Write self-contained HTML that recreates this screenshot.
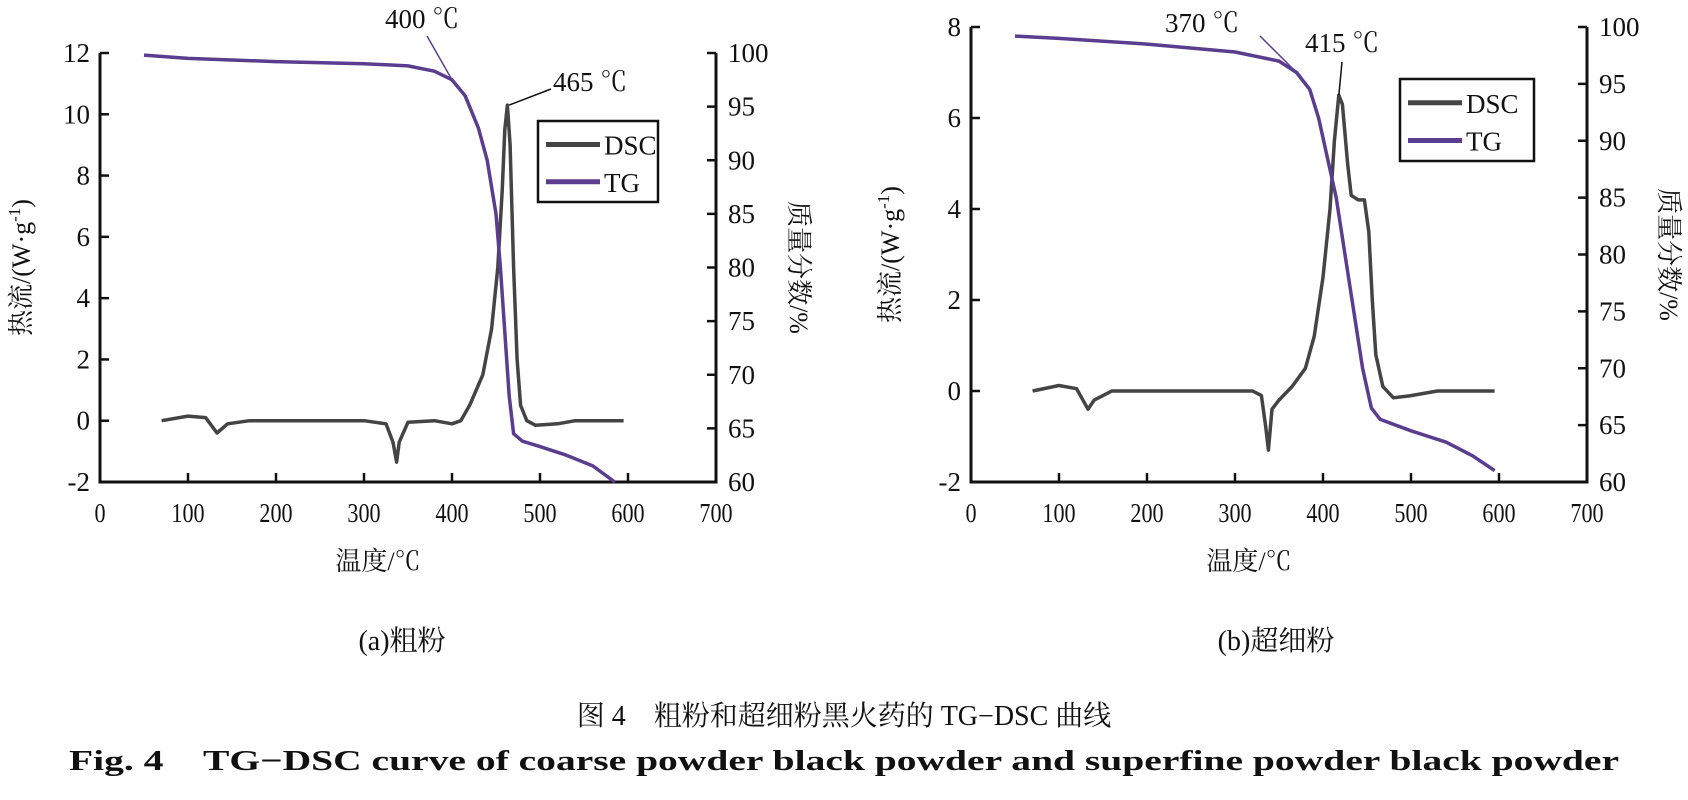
<!DOCTYPE html>
<html><head><meta charset="utf-8"><style>
html,body{margin:0;padding:0;background:#fff;}
svg{display:block;}
text{font-family:"Liberation Serif","Noto Serif CJK SC",serif;fill:#111;}
</style></head><body>
<svg id="fig" width="1688" height="800" viewBox="0 0 1688 800"></svg>
<script>
// ---- data (temperature °C, value) ----
const dscA_T=[70,100,120,133,145,170,300,325,333,337,340,350,380,400,410,420,435,445,452,457,460,463,466,470,474,478,485,495,520,540,595];
const dscA_V=[0,0.15,0.1,-0.4,-0.1,0,0,-0.1,-0.7,-1.35,-0.7,-0.05,0,-0.1,0,0.5,1.5,3,5,7.5,9.5,10.3,9,5,2,0.5,0,-0.15,-0.1,0,0];
const tgA_T=[50,100,200,300,350,380,400,415,430,440,450,455,460,465,470,480,500,530,560,585];
const tgA_V=[99.8,99.5,99.2,99.0,98.8,98.3,97.5,96,93,90,85,80,74,68,64.5,63.8,63.3,62.5,61.5,60];
const dscB_T=[70,100,120,133,140,160,320,330,335,338,342,350,365,380,390,400,408,413,418,422,428,432,440,447,452,456,460,468,480,500,530,595];
const dscB_V=[0,0.12,0.05,-0.4,-0.2,0,0,-0.1,-0.8,-1.3,-0.4,-0.2,0.1,0.5,1.2,2.5,4,5.5,6.5,6.3,5.0,4.3,4.2,4.2,3.5,2,0.8,0.1,-0.15,-0.1,0,0];
const tgB_T=[50,100,200,300,350,370,385,395,405,415,425,435,445,455,465,500,540,570,595];
const tgB_V=[99.2,99,98.5,97.8,97,96,94.5,92,88.5,85,80,75,70,66.5,65.5,64.5,63.5,62.3,61];
const xTicks=[0,100,200,300,400,500,600,700];
const yA_ticks=[-2,0,2,4,6,8,10,12];
const yB_ticks=[-2,0,2,4,6,8];
const y2_ticks=[60,65,70,75,80,85,90,95,100];

const NS="http://www.w3.org/2000/svg";
const svg=document.getElementById('fig');
function mk(tag,attrs,parent){const e=document.createElementNS(NS,tag);for(const k in attrs)e.setAttribute(k,attrs[k]);(parent||svg).appendChild(e);return e;}
function txt(s,attrs,parent){const e=mk('text',attrs,parent);e.textContent=s;return e;}

function panel(id,cfg){
  const g=mk('g',{});
  
  
  const {x0,x1,yt,yb,ymin,ymax}=cfg;
  const X=t=>x0+(t-0)/700*(x1-x0);
  const Y=v=>yb-(v-ymin)/(ymax-ymin)*(yb-yt);
  const Y2=v=>yb-(v-60)/40*(yb-yt);
  const frame=mk('path',{d:`M${x0},${yt}V${yb}H${x1}V${yt}`,fill:'none',stroke:'#111','stroke-width':3},g);
  
  
  xTicks.forEach(t=>{
    mk('line',{x1:X(t),x2:X(t),y1:yb,y2:yb-9,stroke:'#111','stroke-width':2.5},g);
    const l=txt(t,{x:X(t),y:yb+40,'text-anchor':'middle','font-size':27,transform:`translate(${X(t)},0) scale(0.82,1) translate(${-X(t)},0)`},g);
    
    
  });
  cfg.yticks.forEach(t=>{
    mk('line',{x1:x0,x2:x0+9,y1:Y(t),y2:Y(t),stroke:'#111','stroke-width':2.5},g);
    const l=txt(t,{x:x0-10,y:Y(t)+9,'text-anchor':'end','font-size':27},g);
    
    
  });
  y2_ticks.forEach(t=>{
    mk('line',{x1:x1,x2:x1-9,y1:Y2(t),y2:Y2(t),stroke:'#111','stroke-width':2.5},g);
    const l=txt(t,{x:x1+12,y:Y2(t)+9,'font-size':27},g);
    
    
  });
  const xl=txt('温度/℃',{x:(x0+x1)/2-30,y:yb+88,'text-anchor':'middle','font-size':26},g);
  
  
  const ly=(yt+yb)/2;
  const yl=txt('',{x:0,y:0,'text-anchor':'middle','font-size':26,transform:`translate(${cfg.ylx},${ly}) rotate(-90)`},g);
  yl.innerHTML='热流/(W·g<tspan dy="-10" font-size="17">-1</tspan><tspan dy="10">)</tspan>';
  
  
  const yr=txt('质量分数/%',{x:0,y:0,'text-anchor':'middle','font-size':26,transform:`translate(${cfg.yrx},${ly}) rotate(90)`},g);
  
  
  const dp=cfg.dT.map((t,i)=>`${i?'L':'M'}${X(t).toFixed(1)},${Y(cfg.dV[i]).toFixed(1)}`).join('');
  const dsc=mk('path',{d:dp,fill:'none',stroke:'#444','stroke-width':3.5,'stroke-linejoin':'round'},g);
  
  
  const tp=cfg.tT.map((t,i)=>`${i?'L':'M'}${X(t).toFixed(1)},${Y2(cfg.tV[i]).toFixed(1)}`).join('');
  const tg=mk('path',{d:tp,fill:'none',stroke:'#5a3d8e','stroke-width':3.5,'stroke-linejoin':'round'},g);
  
  
  // legend
  const L=cfg.leg;
  const lg=mk('g',{},g);
  
  
  mk('rect',{x:L.x,y:L.y,width:L.w,height:L.h,fill:'#fff',stroke:'#111','stroke-width':2.5},lg);
  mk('line',{x1:L.x+8,x2:L.x+62,y1:L.y+L.h*0.29,y2:L.y+L.h*0.29,stroke:'#444','stroke-width':5},lg);
  mk('line',{x1:L.x+8,x2:L.x+62,y1:L.y+L.h*0.75,y2:L.y+L.h*0.75,stroke:'#5a3d8e','stroke-width':5},lg);
  const e1=txt('DSC',{x:L.x+66,y:L.y+L.h*0.29+10,'font-size':27},lg);
  
  
  const e2=txt('TG',{x:L.x+66,y:L.y+L.h*0.75+10,'font-size':27},lg);
  
  
  // annotations
  cfg.ann.forEach(a=>{
    const px=X(a.t), py=a.tg?Y2(a.v):Y(a.v);
    mk('line',{x1:a.lx,y1:a.ly,x2:px,y2:py,stroke:a.tg?'#5a3d8e':'#111','stroke-width':1.5},g);
    const at=txt(a.s,{x:a.tx,y:a.ty,'font-size':27},g);
    
    
  });
  const cap=txt(cfg.cap,{x:cfg.capx,y:650,'text-anchor':'middle','font-size':28},g);
  
  
}
panel('coarse',{x0:100,x1:716,yt:53,yb:482,ymin:-2,ymax:12,yticks:yA_ticks,dT:dscA_T,dV:dscA_V,tT:tgA_T,tV:tgA_V,ylx:30,yrx:790,
  leg:{x:538,y:121,w:120,h:81},cap:'(a)粗粉',capx:402,
  ann:[{s:'400 ℃',t:400,v:97.5,tg:true,lx:427,ly:36,tx:385,ty:28},{s:'465 ℃',t:465,v:10.3,tg:false,lx:551,ly:89,tx:553,ty:91}]});
panel('superfine',{x0:971,x1:1587,yt:27,yb:482,ymin:-2,ymax:8,yticks:yB_ticks,dT:dscB_T,dV:dscB_V,tT:tgB_T,tV:tgB_V,ylx:899,yrx:1660,
  leg:{x:1400,y:79,w:134,h:82},cap:'(b)超细粉',capx:1276,
  ann:[{s:'370 ℃',t:370,v:96,tg:true,lx:1260,ly:36,tx:1165,ty:32},{s:'415 ℃',t:418,v:6.5,tg:false,lx:1342,ly:62,tx:1305,ty:52}]});
const c1=txt('图 4　粗粉和超细粉黑火药的 TG−DSC 曲线',{x:844,y:725,'text-anchor':'middle','font-size':28});


const c2=txt('Fig. 4　TG−DSC curve of coarse powder black powder and superfine powder black powder',{x:844,y:770,'text-anchor':'middle','font-size':29,'font-weight':'bold',textLength:1550,lengthAdjust:'spacingAndGlyphs'});


</script>
</body></html>
